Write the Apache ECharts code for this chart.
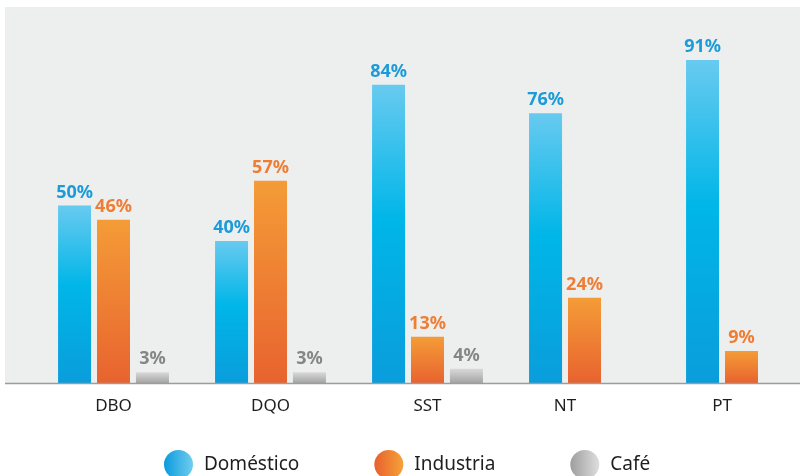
<!DOCTYPE html>
<html>
<head>
<meta charset="utf-8">
<script src="https://cdn.jsdelivr.net/npm/echarts@6/dist/echarts.min.js"></script>
<style>
  html, body { margin: 0; padding: 0; background: #ffffff; }
  #chart { width: 804px; height: 476px; }
</style>
</head>
<body>
<div id="chart"></div>
<script>
// Parameters and share of load by source (%)
const categories = ['DBO', 'DQO', 'SST', 'NT', 'PT'];
const domestico = [50, 40, 84, 76, 91];
const industria = [46, 57, 13, 24, 9];
const cafe = [3, 3, 4, null, null];
const seriesNames = ['Doméstico', 'Industria', 'Café'];
// Categories with only two sources get their label centred under the two bars
const twoBarCategories = ['NT', 'PT'];

const FONT = '"Noto Sans", "Open Sans", sans-serif';

function vGrad(stops) {
  return new echarts.graphic.LinearGradient(0, 0, 0, 1, stops.map(c => ({ offset: c[0], color: c[1] })));
}
function hGrad(a, b) {
  return new echarts.graphic.LinearGradient(0, 0, 1, 0, [{ offset: 0, color: a }, { offset: 1, color: b }]);
}

const blueBar = vGrad([[0, '#68caf0'], [0.45, '#00b6e8'], [1, '#0a9ddc']]);
const orangeBar = vGrad([[0, '#f49c37'], [1, '#e8632f']]);
const greyBar = vGrad([[0, '#d9d9d9'], [1, '#a3a3a3']]);

function makeSeries(name, data, color, labelColor) {
  return {
    name: name,
    type: 'bar',
    data: data,
    barWidth: 33,
    barGap: '18%',
    itemStyle: { color: color },
    label: {
      show: true,
      position: 'top',
      distance: 4,
      formatter: p => p.value + '%',
      color: labelColor,
      fontFamily: FONT,
      fontWeight: 'bold',
      fontSize: 18
    }
  };
}

const chart = echarts.init(document.getElementById('chart'), null, { renderer: 'canvas' });

chart.setOption({
  animation: false,
  backgroundColor: '#ffffff',
  graphic: [
    {
      type: 'rect',
      z: -10,
      shape: { x: 5, y: 7, width: 795, height: 376 },
      style: { fill: '#edefee' },
      silent: true
    },
    {
      type: 'line',
      z: 10,
      shape: { x1: 5, y1: 383.5, x2: 800, y2: 383.5 },
      style: { stroke: '#9c9c9c', lineWidth: 1.5 },
      silent: true
    }
  ],
  grid: { left: 35, width: 785, top: 28, height: 355, outerBoundsMode: 'none', containLabel: false },
  xAxis: {
    type: 'category',
    data: categories,
    axisLine: { show: false },
    axisTick: { show: false },
    axisLabel: {
      margin: 15,
      fontFamily: FONT,
      fontSize: 17,
      color: '#1e1e1e',
      formatter: v => twoBarCategories.includes(v) ? '{s|' + v + '}' : '{n|' + v + '}',
      rich: {
        n: { fontFamily: FONT, fontSize: 17, color: '#1e1e1e' },
        s: { fontFamily: FONT, fontSize: 17, color: '#1e1e1e', padding: [0, 39, 0, 0] }
      }
    }
  },
  yAxis: {
    type: 'value',
    min: 0,
    max: 100,
    show: false,
    splitLine: { show: false }
  },
  legend: {
    left: 164,
    top: 450,
    padding: 0,
    icon: 'circle',
    itemWidth: 29,
    itemHeight: 29,
    itemGap: 75,
    textStyle: { fontFamily: FONT, fontSize: 19, color: '#1e1e1e', padding: [0, 0, 0, 6] },
    data: [
      { name: seriesNames[0], itemStyle: { color: hGrad('#0a9bdc', '#70cdef') } },
      { name: seriesNames[1], itemStyle: { color: hGrad('#e8602c', '#f5a23a') } },
      { name: seriesNames[2], itemStyle: { color: hGrad('#9e9e9e', '#dedede') } }
    ]
  },
  series: [
    makeSeries(seriesNames[0], domestico, blueBar, '#1b9bd9'),
    makeSeries(seriesNames[1], industria, orangeBar, '#ef7d34'),
    makeSeries(seriesNames[2], cafe, greyBar, '#858585')
  ]
});
</script>
</body>
</html>
